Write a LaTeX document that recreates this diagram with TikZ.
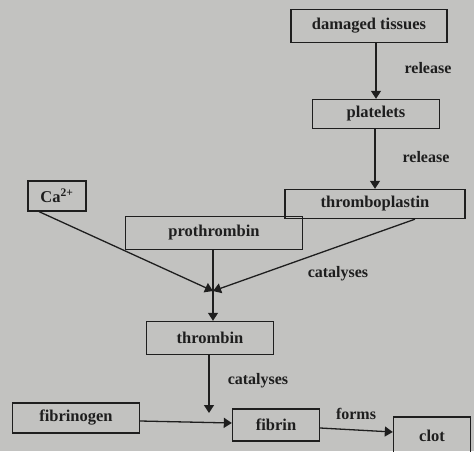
\documentclass[tikz,border=0pt]{standalone}
\usepackage{fontspec}
\setmainfont{Liberation Serif}
\usetikzlibrary{arrows.meta,calc}
\definecolor{bg}{RGB}{194,194,192}
\definecolor{ink}{RGB}{30,30,30}
\begin{document}
\begin{tikzpicture}[x=1pt,y=-1pt,
  box/.style={draw=ink,line width=1.4pt,text=ink,inner sep=0pt,
    font=\bfseries\fontsize{16.5}{18}\selectfont},
  lbl/.style={text=ink,inner sep=0pt,font=\bfseries\fontsize{16}{18}\selectfont},
  arr/.style={draw=ink,line width=1.3pt,-{Triangle[width=10pt,length=8pt]}},
  ln/.style={draw=ink,line width=1.3pt}]
\fill[bg] (0,0) rectangle (474,451);
\useasboundingbox (0,0) rectangle (474,451);
% boxes
\node[box,minimum width=156pt,minimum height=33pt] (dt) at (369,26) {damaged tissues};
\node[box,minimum width=127pt,minimum height=29pt] (pl) at (376,114) {platelets};
\node[box,minimum width=180pt,minimum height=29pt] (tp) at (375,204) {thromboplastin};
\node[box,minimum width=58pt,minimum height=30pt] (ca) at (57,196) {Ca\textsuperscript{2+}};
\node[box,minimum width=177pt,minimum height=33pt] (pro) at (214,233) {prothrombin};
\node[box,minimum width=127pt,minimum height=33pt] (thr) at (210,338) {thrombin};
\node[box,minimum width=127pt,minimum height=30pt] (fg) at (76,418) {fibrinogen};
\node[box,minimum width=87pt,minimum height=32pt] (fb) at (276,425) {fibrin};
\node[box,minimum width=77pt,minimum height=38pt] (cl) at (432,436) {clot};
% coordinates
\coordinate (J) at (213,291);
\coordinate (T) at (209,413);
% connectors
\draw[arr] (dt.south -| 376,0) -- (pl.north -| 376,0);
\draw[arr] (pl.south -| 375,0) -- (tp.north -| 375,0);
\draw[arr] ($(ca.south west)!0.2!(ca.south east)$) -- (J);
\draw[arr] ($(tp.south west)!0.72!(tp.south east)$) -- (J);
\draw[arr] (pro.south -| J) -- (thr.north -| J);
\draw[arr] (thr.south -| T) -- (T);
\draw[arr] ($(fg.east)+(0,3)$) -- ($(fb.west)+(0,-2)$);
\draw[arr] ($(fb.east)+(0,3)$) -- ($(cl.west)+(0,-4)$);
% labels
\node[lbl] (r1) at (428,68) {release};
\node[lbl] (r2) at (426,157) {release};
\node[lbl] (c1) at (338,274) {catalyses};
\node[lbl] (c2) at (258,381) {catalyses};
\node[lbl] (fo) at (356,414) {forms};
\end{tikzpicture}
\end{document}
